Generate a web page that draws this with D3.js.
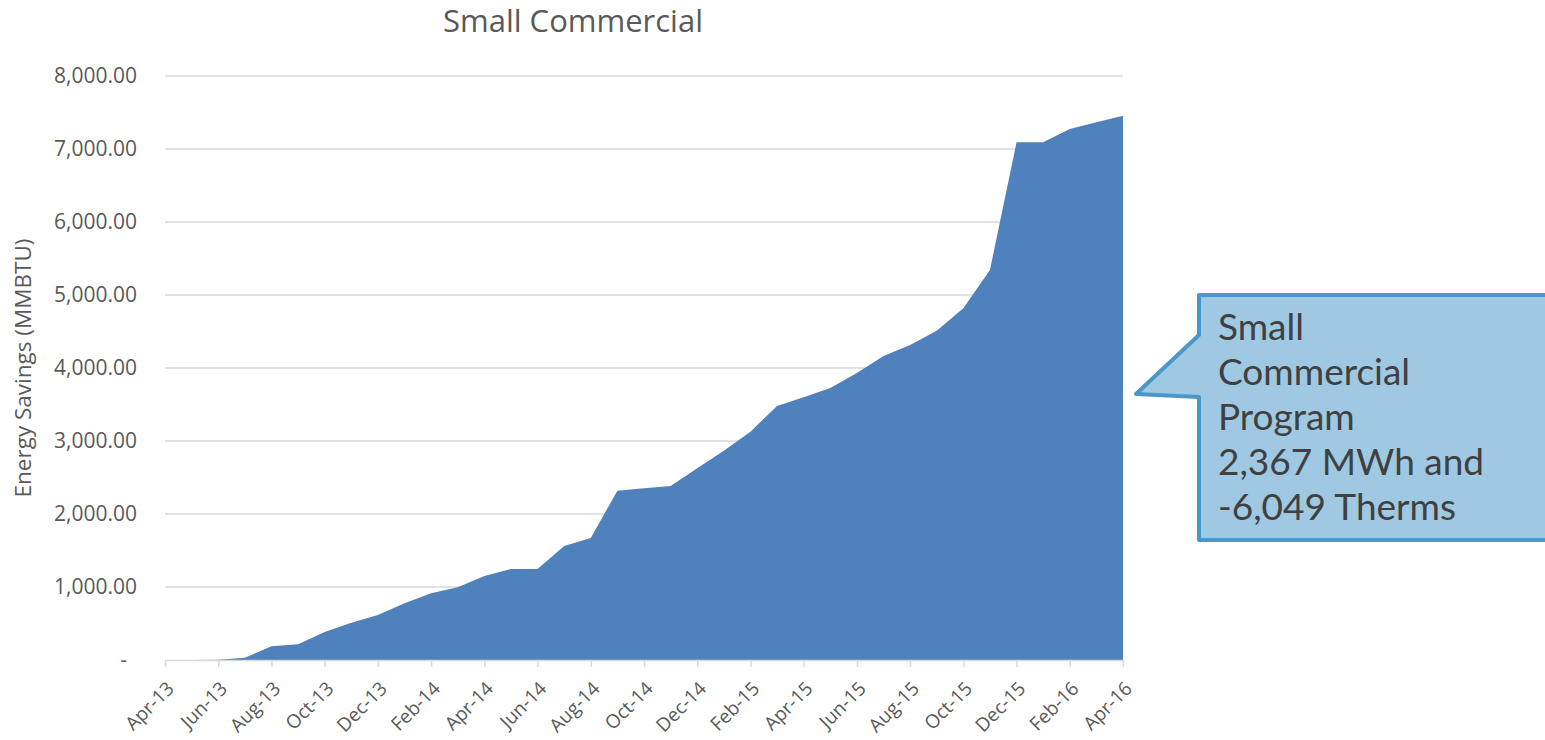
<!DOCTYPE html>
<html><head><meta charset="utf-8">
<script src="https://cdn.jsdelivr.net/npm/d3@7"></script>
<style>body{margin:0;background:#fff}svg{display:block}</style>
</head><body>
<script>
const months = ["Apr-13","May-13","Jun-13","Jul-13","Aug-13","Sep-13","Oct-13","Nov-13","Dec-13","Jan-14","Feb-14","Mar-14","Apr-14","May-14","Jun-14","Jul-14","Aug-14","Sep-14","Oct-14","Nov-14","Dec-14","Jan-15","Feb-15","Mar-15","Apr-15","May-15","Jun-15","Jul-15","Aug-15","Sep-15","Oct-15","Nov-15","Dec-15","Jan-16","Feb-16","Mar-16","Apr-16"];
const savings = [0,0,5,30,190,215,383,511,616,776,913,995,1150,1247,1247,1560,1670,2320,2352,2384,2626,2867,3128,3479,3600,3726,3931,4164,4315,4511,4817,5342,7092,7092,7274,7365,7456];
const yTicks = [0,1000,2000,3000,4000,5000,6000,7000,8000];
const title = "Small Commercial";
const yTitle = "Energy Savings (MMBTU)";
const calloutLines = ["Small","Commercial","Program","2,367 MWh and","-6,049 Therms"];

const W=1545,H=740;
const svg=d3.select("body").append("svg").attr("width",W).attr("height",H);
const x=d3.scalePoint().domain(months).range([165,1123]);
const y=d3.scaleLinear().domain([0,8000]).range([660,76]);
const font="'Open Sans', sans-serif";

// gridlines
svg.append("g").selectAll("line").data(yTicks.filter(d=>d>0)).join("line")
  .attr("x1",165).attr("x2",1123).attr("y1",d=>y(d)).attr("y2",d=>y(d))
  .attr("stroke","#d9d9d9").attr("stroke-width",1.3);

// area
svg.append("path").datum(savings)
  .attr("d",d3.area().x((d,i)=>x(months[i])).y0(y(0)).y1(d=>y(d)))
  .attr("fill","#4f81bd");

// x axis
const xa=svg.append("g").attr("transform","translate(0,660)")
  .call(d3.axisBottom(x).tickValues(months.filter((d,i)=>i%2===0)).tickSize(7).tickSizeOuter(0));
xa.attr("font-size",null).attr("font-family",null);
xa.select(".domain").attr("stroke","#d9d9d9").attr("stroke-width",1.5);
xa.selectAll(".tick line").attr("stroke","#d9d9d9").attr("stroke-width",1.5);
xa.selectAll(".tick text").attr("fill","#595959").style("font-family",font).style("font-size","19px")
  .attr("text-anchor","end").attr("x",0).attr("y",0).attr("dy","0.35em")
  .attr("transform","translate(5,25) rotate(-45)");

// y axis
const ya=svg.append("g").attr("transform","translate(137,0)")
  .call(d3.axisLeft(y).tickValues(yTicks).tickSize(0).tickPadding(0)
  .tickFormat(d=>d===0?"-":d3.format(",.2f")(d)));
ya.attr("font-size",null).attr("font-family",null);
ya.select(".domain").remove();
ya.selectAll(".tick text").attr("fill","#595959").style("font-family",font).style("font-size","21px");
ya.selectAll(".tick").filter(d=>d===0).select("text").attr("dx",-10);

// titles
svg.append("text").attr("x",573).attr("y",32).attr("text-anchor","middle")
  .style("font-family",font).style("font-size","31px").attr("fill","#595959").text(title);
svg.append("text").attr("transform","translate(31,368) rotate(-90)").attr("text-anchor","middle")
  .style("font-family",font).style("font-size","22.5px").attr("fill","#595959").text(yTitle);

// callout
const bx=1199, by=295, bw=400, bh=245;
svg.append("path")
  .attr("d",`M${bx},${by} L${bx+bw},${by} L${bx+bw},${by+bh} L${bx},${by+bh} L${bx},${by+102} L1136,394 L${bx},${by+40} Z`)
  .attr("fill","#9fc8e3").attr("stroke","#4a97c9").attr("stroke-width",4).attr("stroke-linejoin","round");
const ct=svg.append("text").style("font-family","Lato, 'Open Sans', sans-serif").style("font-size","37px")
  .attr("fill","#404040");
calloutLines.forEach((t,i)=>{
  ct.append("tspan").attr("x",1218).attr("y",340+i*45).text(t);
});
</script>
</body></html>
